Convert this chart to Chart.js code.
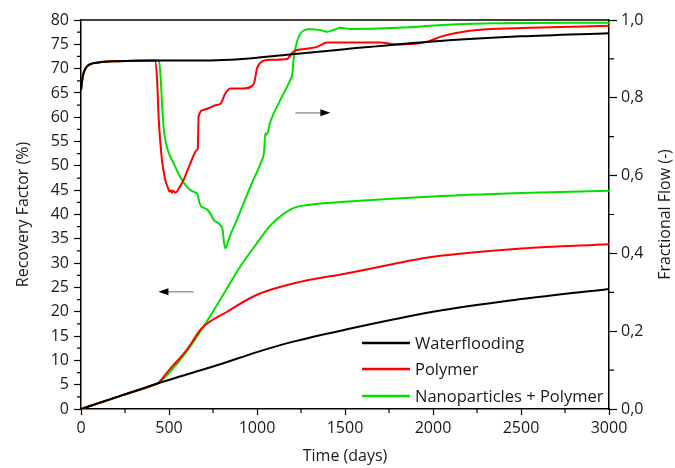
<!DOCTYPE html>
<html>
<head>
<meta charset="utf-8">
<script src="https://cdn.jsdelivr.net/npm/chart.js@4"></script>
<style>
  html, body { margin: 0; padding: 0; background: #fff; }
  #wrap { width: 675px; height: 468px; }
</style>
</head>
<body>
<div id="wrap"><canvas id="chart" width="675" height="468"></canvas></div>
<script>
// series names
var seriesNames = ['Waterflooding', 'Polymer', 'Nanoparticles + Polymer'];
var seriesColors = ['#000000', '#ff0000', '#00e000'];

// recovery factor (%), left axis
var wfRfDays = [0, 220, 440, 600, 800, 1000, 1200, 1500, 2000, 2500, 3000];
var wfRf     = [0, 2.65, 5.3, 7.1, 9.3, 11.7, 13.8, 16.3, 20.0, 22.6, 24.7];

var polyRfDays = [0, 220, 425, 440, 500, 600, 686, 830, 1000, 1250, 1500, 2000, 2500, 3000];
var polyRf     = [0, 2.65, 5.12, 5.4, 8.0, 12.1, 16.6, 20.0, 23.5, 26.2, 27.8, 31.3, 33.0, 33.9];

var nanoRfDays = [0, 220, 430, 445, 500, 600, 685, 790, 905, 1000, 1075, 1200, 1300, 1500, 2000, 2500, 3000];
var nanoRf     = [0, 2.65, 5.18, 5.45, 7.4, 11.8, 16.3, 22.4, 29.3, 34.1, 37.7, 41.2, 42.0, 42.6, 43.7, 44.4, 44.9];

// fractional flow (-), right axis
var wfFfDays = [0, 10, 25, 50, 100, 200, 420, 700, 850, 1000, 1200, 1500, 2000, 2500, 3000];
var wfFf     = [0.82, 0.855, 0.875, 0.886, 0.891, 0.894, 0.896, 0.896, 0.898, 0.903, 0.912, 0.925, 0.945, 0.958, 0.966];

var polyFfDays = [0, 10, 25, 50, 100, 200, 420, 432, 441, 460, 479, 495, 503, 512, 518, 524, 536, 560, 583, 620, 659,
                  664, 668, 697, 740, 763, 791, 820, 848, 924, 971, 985, 1000, 1028, 1057, 1170, 1207, 1280, 1341, 1400,
                  1700, 1795, 1900, 1966, 2050, 2173, 2400, 2553, 3000];
var polyFf     = [0.82, 0.855, 0.875, 0.886, 0.891, 0.894, 0.896, 0.85, 0.751, 0.64, 0.589, 0.568, 0.559, 0.562, 0.556, 0.561, 0.556, 0.57, 0.589, 0.63, 0.666,
                  0.67, 0.751, 0.769, 0.776, 0.781, 0.784, 0.811, 0.824, 0.824, 0.83, 0.84, 0.876, 0.893, 0.897, 0.9, 0.919, 0.926, 0.931, 0.942,
                  0.942, 0.937, 0.939, 0.944, 0.958, 0.97, 0.978, 0.98, 0.985];

var nanoFfDays = [0, 10, 25, 50, 100, 200, 443, 452, 460, 470, 490, 526, 564, 602, 640, 659, 678, 710, 735, 754, 791,
                  805, 812, 820, 835, 848, 880, 924, 975, 1028, 1040, 1047, 1055, 1076, 1132, 1189, 1200, 1208, 1227,
                  1265, 1300, 1360, 1398, 1440, 1473, 1530, 1800, 2173, 3000];
var nanoFf     = [0.82, 0.855, 0.875, 0.886, 0.891, 0.894, 0.896, 0.855, 0.79, 0.72, 0.67, 0.632, 0.597, 0.571, 0.558, 0.554, 0.524, 0.515, 0.503, 0.486, 0.473,
                  0.46, 0.43, 0.413, 0.43, 0.447, 0.48, 0.529, 0.585, 0.64, 0.66, 0.709, 0.705, 0.739, 0.794, 0.846, 0.86, 0.897, 0.944,
                  0.973, 0.976, 0.974, 0.97, 0.975, 0.98, 0.977, 0.98, 0.99, 0.993];

// tick settings
var xTicks = [0, 500, 1000, 1500, 2000, 2500, 3000];
var rfTicks = [0, 5, 10, 15, 20, 25, 30, 35, 40, 45, 50, 55, 60, 65, 70, 75, 80];
var ffTicks = [0, 0.2, 0.4, 0.6, 0.8, 1.0];

function pts(days, vals) {
    return days.map(function (d, i) { return { x: d, y: vals[i] }; });
}

function makeSet(i, days, vals, axis) {
    return {
        label: seriesNames[i],
        data: pts(days, vals),
        yAxisID: axis,
        borderColor: seriesColors[i],
        backgroundColor: seriesColors[i],
        borderWidth: 2,
        pointRadius: 0,
        tension: 0,
        cubicInterpolationMode: 'monotone',
        fill: false
    };
}

var FONT = '"Open Sans", "Noto Sans", sans-serif';
var TXT = '#1a1a1a';

// short minor ticks, top frame line, legend, arrows, right title
var extras = {
    id: 'extras',
    afterDraw: function (chart) {
        var ctx = chart.ctx;
        var a = chart.chartArea;
        var sx = chart.scales.x, sy = chart.scales.y, sy1 = chart.scales.y1;
        ctx.save();
        ctx.strokeStyle = '#000';
        ctx.lineWidth = 1.5;
        ctx.beginPath();
        ctx.moveTo(a.left, a.top);
        ctx.lineTo(a.right, a.top);
        ctx.stroke();

        ctx.lineWidth = 1.2;
        ctx.beginPath();
        for (var v = 2.5; v < 80; v += 5) {
            var py = sy.getPixelForValue(v);
            ctx.moveTo(a.left, py); ctx.lineTo(a.left - 4, py);
        }
        for (var f = 0.1; f < 1; f += 0.2) {
            var py1 = sy1.getPixelForValue(f);
            ctx.moveTo(a.right, py1); ctx.lineTo(a.right + 5, py1);
        }
        for (var d = 250; d < 3000; d += 500) {
            var px = sx.getPixelForValue(d);
            ctx.moveTo(px, a.bottom); ctx.lineTo(px, a.bottom + 4);
        }
        ctx.stroke();

        // arrows pointing to the axis each group belongs to
        function arrow(x0, x1, yv, scale) {
            var p0 = sx.getPixelForValue(x0), p1 = sx.getPixelForValue(x1);
            var yy = scale.getPixelForValue(yv);
            var dir = p1 > p0 ? 1 : -1;
            ctx.strokeStyle = '#999';
            ctx.lineWidth = 1.5;
            ctx.beginPath();
            ctx.moveTo(p0, yy); ctx.lineTo(p1 - dir * 8, yy);
            ctx.stroke();
            ctx.fillStyle = '#000';
            ctx.beginPath();
            ctx.moveTo(p1, yy);
            ctx.lineTo(p1 - dir * 10, yy - 3.5);
            ctx.lineTo(p1 - dir * 10, yy + 3.5);
            ctx.closePath();
            ctx.fill();
        }
        arrow(640, 440, 24.1, sy);
        arrow(1218, 1417, 60.9, sy);

        // legend inside plot, bottom right
        ctx.font = '16.5px ' + FONT;
        ctx.textBaseline = 'middle';
        ctx.textAlign = 'left';
        var rows = [a.bottom - 66, a.bottom - 40, a.bottom - 13];
        for (var i = 0; i < 3; i++) {
            ctx.strokeStyle = seriesColors[i];
            ctx.lineWidth = 2.5;
            ctx.beginPath();
            ctx.moveTo(a.right - 247, rows[i]);
            ctx.lineTo(a.right - 199, rows[i]);
            ctx.stroke();
            ctx.fillStyle = TXT;
            ctx.fillText(seriesNames[i], a.right - 194, rows[i] + 1);
        }

        // right axis title, reading bottom to top
        ctx.font = '16px ' + FONT;
        ctx.translate(665, (a.top + a.bottom) / 2);
        ctx.rotate(-Math.PI / 2);
        ctx.textAlign = 'center';
        ctx.fillText('Fractional Flow (-)', 0, 0);
        ctx.restore();
    }
};

var ctx = document.getElementById('chart').getContext('2d');
new Chart(ctx, {
    type: 'line',
    data: {
        datasets: [
            makeSet(0, wfRfDays, wfRf, 'y'),
            makeSet(1, polyRfDays, polyRf, 'y'),
            makeSet(2, nanoRfDays, nanoRf, 'y'),
            makeSet(0, wfFfDays, wfFf, 'y1'),
            makeSet(1, polyFfDays, polyFf, 'y1'),
            makeSet(2, nanoFfDays, nanoFf, 'y1')
        ]
    },
    options: {
        responsive: false,
        animation: false,
        layout: { padding: { top: 20, left: 0, right: 0, bottom: 0 } },
        plugins: { legend: { display: false }, tooltip: { enabled: false } },
        scales: {
            x: {
                type: 'linear', min: 0, max: 3000,
                afterBuildTicks: function (s) { s.ticks = xTicks.map(function (v) { return { value: v }; }); },
                afterFit: function (s) { s.height = 59; },
                ticks: {
                    color: TXT, font: { family: FONT, size: 16 }, padding: 4, maxRotation: 0,
                    callback: function (v) { return String(v); }
                },
                grid: { drawOnChartArea: false, tickLength: 6, color: '#000', tickWidth: 1.2 },
                border: { color: '#000', width: 1.5 },
                title: { display: true, text: 'Time (days)', color: TXT, font: { family: FONT, size: 16 }, padding: { top: 0, bottom: 2 } }
            },
            y: {
                position: 'left', min: 0, max: 80,
                afterBuildTicks: function (s) { s.ticks = rfTicks.map(function (v) { return { value: v }; }); },
                afterFit: function (s) { s.width = 81; },
                ticks: { color: TXT, font: { family: FONT, size: 16 }, padding: 5 },
                grid: { drawOnChartArea: false, tickLength: 7, color: '#000', tickWidth: 1.2 },
                border: { color: '#000', width: 1.5 },
                title: { display: true, text: 'Recovery Factor (%)', color: TXT, font: { family: FONT, size: 16 }, padding: { top: 14, bottom: 0 } }
            },
            y1: {
                position: 'right', min: 0, max: 1,
                afterBuildTicks: function (s) { s.ticks = ffTicks.map(function (v) { return { value: v }; }); },
                afterFit: function (s) { s.width = 66; },
                ticks: {
                    color: TXT, font: { family: FONT, size: 16 }, padding: 4,
                    callback: function (v) { return v.toFixed(1).replace('.', ','); }
                },
                grid: { drawOnChartArea: false, tickLength: 8, color: '#000', tickWidth: 1.2 },
                border: { color: '#000', width: 1.5 }
            }
        }
    },
    plugins: [extras]
});
</script>
</body>
</html>
